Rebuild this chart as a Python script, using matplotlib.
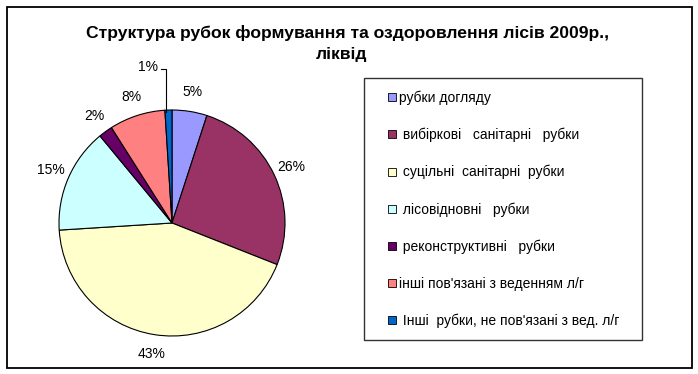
import matplotlib
matplotlib.use("Agg")
import matplotlib.pyplot as plt
from matplotlib.lines import Line2D
from matplotlib.patches import Rectangle

# частки рубок, %
labels = ['рубки догляду',
          ' вибіркові   санітарні   рубки',
          ' суцільні  санітарні  рубки',
          ' лісовідновні   рубки',
          ' реконструктивні   рубки',
          'інші пов\'язані з веденням л/г',
          ' Інші  рубки, не пов\'язані з вед. л/г']
values = [5, 26, 43, 15, 2, 8, 1]
colors = ['#9999FF', '#993366', '#FFFFCC', '#CCFFFF', '#660066', '#FF8080', '#0066CC']

title1 = 'Структура рубок формування та оздоровлення лісів 2009р.,'
title2 = 'ліквід'

plt.rcParams['font.family'] = ['Liberation Sans', 'DejaVu Sans']

W, H = 698, 374
fig = plt.figure(figsize=(W / 100, H / 100), dpi=100)

# рамка навколо всього
fig.patches.append(Rectangle((6.5 / W, 1 - 367.5 / H), 685 / W, 361 / H,
                             transform=fig.transFigure, fill=False,
                             edgecolor='black', linewidth=1.3))

fig.text(348 / W, 1 - 33 / H, title1, ha='center', va='center',
         fontsize=12.6, fontweight='bold')
fig.text(342 / W, 1 - 55 / H, title2, ha='center', va='center',
         fontsize=12.6, fontweight='bold')

cx, cy, r = 172, 223, 113
ax = fig.add_axes([(cx - r) / W, (H - cy - r) / H, 2 * r / W, 2 * r / H])
wedges, texts, autotexts = ax.pie(values, colors=colors, startangle=90,
                                  counterclock=False, radius=1,
                                  autopct=lambda p: '%.0f%%' % p,
                                  pctdistance=1.17,
                                  wedgeprops=dict(edgecolor='black', linewidth=0.8),
                                  textprops=dict(fontsize=10))
for t in texts:
    t.remove()
ax.set_xlim(-1, 1)
ax.set_ylim(-1, 1)
ax.set_aspect('equal')
ax.axis('off')

# мітка 1% з виносною лінією
t = autotexts[-1]
t.set_position((-0.21, 1.38))
ax.plot([-0.1, -0.05, -0.05], [1.36, 1.36, 0.98], color='black', lw=0.8,
        clip_on=False)

handles = [Line2D([], [], linestyle='none', marker='s', markersize=5.5,
                  markerfacecolor=c, markeredgecolor='black', markeredgewidth=0.6)
           for c in colors]
leg = fig.legend(handles, labels, loc='upper left',
                 bbox_to_anchor=(364 / W, 1 - 78 / H, 278 / W, 0.0),
                 mode='expand', frameon=True, fancybox=False, fontsize=10,
                 handlelength=2.2, handletextpad=-0.6, labelspacing=1.64,
                 borderpad=0.9, borderaxespad=0)
leg.get_frame().set_edgecolor('black')
leg.get_frame().set_linewidth(1.0)

fig.savefig('out.png', dpi=100)
